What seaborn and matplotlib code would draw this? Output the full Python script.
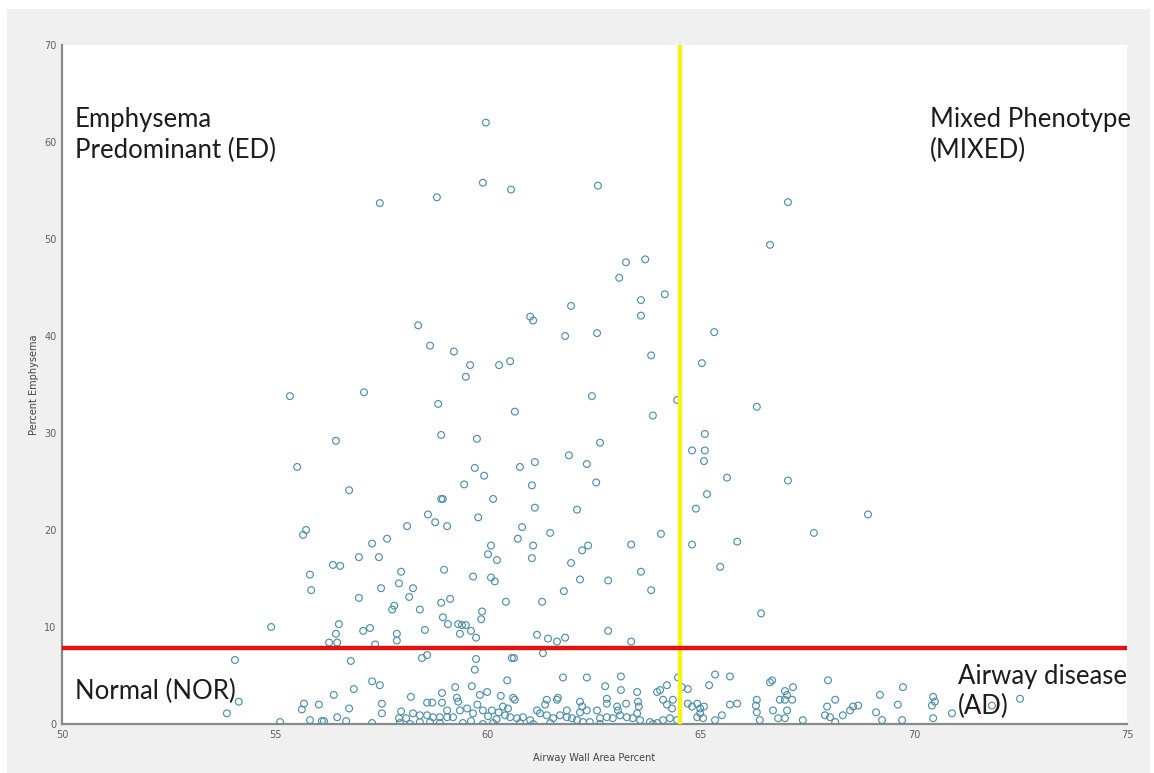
import matplotlib
matplotlib.use("Agg")
import matplotlib.pyplot as plt
import seaborn as sns
import pandas as pd
from matplotlib.patches import Rectangle

# ---- data ----
airway_wall = [
    59.95, 57.46, 58.80, 59.88, 60.54, 62.58,
    58.36, 58.64, 59.20, 59.58, 59.48, 60.26, 60.52, 60.99, 61.06, 61.95, 61.81, 62.56, 55.35, 57.09, 62.44,
    67.04, 66.62, 63.24, 63.69, 63.08, 64.15, 63.59, 63.59, 65.31, 63.83, 65.02, 64.44,
    58.83, 60.63, 63.87, 56.43, 58.90, 59.74, 55.52, 59.69, 59.91, 60.75, 61.10, 61.90, 62.32, 62.63, 62.54,
    61.03, 59.44, 56.74, 58.90, 58.94, 60.12, 61.10, 62.09, 58.59, 58.76, 59.04, 58.10, 59.77, 60.80, 61.46,
    60.70, 61.06, 60.07, 60.00, 60.21, 61.03, 61.95, 62.21, 62.35, 63.36, 64.06, 55.73, 55.66, 57.28, 57.63,
    56.97, 57.44, 56.36, 56.53, 55.82, 55.85, 57.96, 57.91, 57.49, 58.24, 58.15, 56.97, 58.97, 59.65, 60.07,
    60.16, 62.16, 62.82, 63.59, 61.78, 63.83, 60.42, 61.27, 58.90, 59.11, 58.40, 57.75, 57.80, 59.86, 59.84,
    58.94, 59.06, 59.30, 59.39, 59.48, 59.60, 59.72, 59.34, 58.52, 57.86, 57.86, 57.07, 57.23, 56.50, 56.43,
    56.27, 56.46, 57.35, 54.91, 61.15, 61.41, 61.62, 61.81, 62.82, 63.36, 64.79, 64.88, 64.79,
    66.31, 65.09, 65.09, 65.07, 65.61, 67.04, 65.14, 68.92, 65.85, 67.65, 65.45, 66.41,
    54.06, 54.15, 53.87, 55.12, 56.78, 57.28, 57.46, 56.85, 56.38, 55.68, 55.63, 56.03, 56.74, 57.51, 57.51,
    56.46, 55.82, 56.10, 56.15, 56.67, 57.28, 58.19, 57.96, 57.91, 58.08, 58.24, 58.40, 58.57, 58.57, 58.69,
    58.92, 58.92, 59.23, 59.27, 59.30, 59.62, 59.81, 59.98, 59.69, 59.72, 58.45, 58.57, 58.71, 58.87, 59.04,
    59.18, 59.04, 59.34, 59.51, 59.65, 59.88, 60.09, 57.93, 58.17, 58.40, 58.64, 58.87, 59.41, 59.88, 60.12,
    61.29, 60.56, 60.61, 60.45, 61.76, 62.32, 63.12, 62.75, 63.12, 63.50, 63.97, 64.04, 64.20, 64.46, 64.55,
    64.69, 65.19, 65.33, 65.68, 60.59, 60.63, 61.64, 61.62, 62.16, 62.21, 62.16, 62.79, 62.79, 63.03, 63.05,
    63.24, 63.52, 63.54, 63.50, 64.11, 64.20, 64.34, 64.32, 64.69, 64.79, 64.91, 64.98, 65.07, 64.98, 64.91,
    65.05, 65.68, 65.85, 65.49, 65.33, 66.31, 66.29, 66.31, 66.38, 66.62, 66.67, 66.69, 66.81, 66.97, 67.02,
    66.85, 66.97, 67.14, 67.16, 67.02, 66.97,
    60.35, 60.47, 60.40, 60.52, 60.68, 60.82, 60.99, 61.15, 61.22, 61.38, 61.53, 61.69, 61.85, 61.97, 62.09,
    62.23, 62.39, 62.63, 62.79, 62.93, 63.10, 63.26, 63.40, 63.57, 63.80, 63.97, 64.11, 64.27, 64.44, 61.46,
    61.06, 60.75, 62.63, 63.87, 61.38, 61.34, 61.85, 62.32, 62.56,
    67.98, 68.15, 67.96, 67.91, 68.03, 68.15, 68.33, 68.50, 68.57, 68.69, 69.20, 69.74, 69.11, 69.25, 69.62,
    69.72, 70.45, 70.49, 70.42, 70.45, 70.89, 71.83, 72.49, 67.39,
    60.20, 60.30, 59.60, 60.00, 60.25, 59.75,
]
pct_emphysema = [
    62.0, 53.7, 54.3, 55.8, 55.1, 55.5,
    41.1, 39.0, 38.4, 37.0, 35.8, 37.0, 37.4, 42.0, 41.6, 43.1, 40.0, 40.3, 33.8, 34.2, 33.8,
    53.8, 49.4, 47.6, 47.9, 46.0, 44.3, 43.7, 42.1, 40.4, 38.0, 37.2, 33.4,
    33.0, 32.2, 31.8, 29.2, 29.8, 29.4, 26.5, 26.4, 25.6, 26.5, 27.0, 27.7, 26.8, 29.0, 24.9,
    24.6, 24.7, 24.1, 23.2, 23.2, 23.2, 22.3, 22.1, 21.6, 20.8, 20.4, 20.4, 21.3, 20.3, 19.7,
    19.1, 18.4, 18.4, 17.5, 16.9, 17.1, 16.6, 17.9, 18.4, 18.5, 19.6, 20.0, 19.5, 18.6, 19.1,
    17.2, 17.2, 16.4, 16.3, 15.4, 13.8, 15.7, 14.5, 14.0, 14.0, 13.1, 13.0, 15.9, 15.2, 15.1,
    14.7, 14.9, 14.8, 15.7, 13.7, 13.8, 12.6, 12.6, 12.5, 12.9, 11.8, 11.8, 12.2, 11.6, 10.8,
    11.0, 10.3, 10.3, 10.2, 10.2, 9.6, 8.9, 9.3, 9.7, 9.3, 8.6, 9.6, 9.9, 10.3, 9.3,
    8.4, 8.4, 8.2, 10.0, 9.2, 8.8, 8.5, 8.9, 9.6, 8.5, 28.2, 22.2, 18.5,
    32.7, 29.9, 28.2, 27.1, 25.4, 25.1, 23.7, 21.6, 18.8, 19.7, 16.2, 11.4,
    6.6, 2.3, 1.1, 0.2, 6.5, 4.4, 4.0, 3.6, 3.0, 2.1, 1.5, 2.0, 1.6, 2.1, 1.1,
    0.7, 0.4, 0.3, 0.3, 0.3, 0.1, 2.8, 1.3, 0.6, 0.6, 1.1, 0.9, 0.9, 2.2, 2.2,
    2.2, 3.2, 3.8, 2.7, 2.3, 3.9, 3.0, 3.3, 5.6, 6.7, 6.8, 7.1, 0.7, 0.7, 0.7,
    0.7, 1.4, 1.4, 1.6, 1.1, 1.4, 1.4, 0.1, 0.0, 0.2, 0.2, 0.1, 0.1, 0.0, 0.1,
    7.3, 6.8, 6.8, 4.5, 4.8, 4.8, 4.9, 3.9, 3.5, 3.3, 3.3, 3.5, 4.0, 4.8, 3.8,
    3.6, 4.0, 5.1, 4.9, 2.7, 2.5, 2.7, 2.5, 2.3, 1.8, 1.2, 2.6, 2.1, 1.8, 1.4,
    2.1, 2.3, 1.8, 1.1, 2.5, 2.0, 2.5, 1.6, 2.1, 1.8, 2.1, 1.6, 1.8, 1.1, 0.7,
    0.6, 2.0, 2.1, 0.9, 0.4, 2.5, 1.9, 1.2, 0.4, 4.3, 4.5, 1.4, 0.6, 3.4, 3.0,
    2.5, 2.5, 2.5, 3.8, 1.4, 0.6,
    1.8, 1.6, 0.9, 0.7, 0.6, 0.7, 0.4, 1.4, 1.1, 0.9, 0.6, 0.9, 0.7, 0.6, 0.4,
    0.2, 0.2, 0.6, 0.7, 0.6, 0.9, 0.7, 0.6, 0.4, 0.2, 0.1, 0.4, 0.6, 0.4, 0.1,
    0.0, 0.1, 0.0, 0.0, 2.5, 2.0, 1.4, 1.4, 1.4,
    4.5, 2.5, 1.8, 0.9, 0.7, 0.2, 0.9, 1.4, 1.8, 1.9, 3.0, 3.8, 1.2, 0.4, 2.0,
    0.4, 2.8, 2.3, 1.9, 0.6, 1.1, 1.9, 2.6, 0.4,
    0.5, 2.9, 0.3, 0.8, 1.2, 2.0,
]
awa_threshold = 64.5
emph_threshold = 7.8
x_ticks = [50, 55, 60, 65, 70, 75]
y_ticks = [0, 10, 20, 30, 40, 50, 60, 70]
x_label = "Airway Wall Area Percent"
y_label = "Percent Emphysema"
quadrant_labels = ["Emphysema\nPredominant (ED)", "Mixed Phenotype\n(MIXED)",
                   "Normal (NOR)", "Airway disease\n(AD)"]

df = pd.DataFrame({"awa": airway_wall, "emph": pct_emphysema})

sns.set_theme(style="white")
plt.rcParams["font.family"] = ["DejaVu Sans"]

W, H = 1154, 773
fig = plt.figure(figsize=(W / 100, H / 100), dpi=100, facecolor="white")
fig.patches.append(Rectangle((7 / W, 0), (1150 - 7) / W, 1 - 9 / H,
                             transform=fig.transFigure, facecolor="#f0f0f0",
                             edgecolor="none", zorder=-10))
ax = fig.add_axes([62 / W, 1 - 724 / H, (1127 - 62) / W, (724 - 45) / H])
ax.set_facecolor("white")

sns.scatterplot(data=df, x="awa", y="emph", ax=ax, marker="o", s=24,
                linewidth=0.85, legend=False, zorder=3)
coll = ax.collections[0]
coll.set_facecolor("none")
coll.set_edgecolor("#4f8fab")

ax.axvline(awa_threshold, color="#f4f41a", lw=3.2, zorder=4)
ax.axhline(emph_threshold, color="#dc1414", lw=3.2, zorder=5)

ax.set_xlim(50, 75)
ax.set_ylim(0, 70)
ax.set_xticks(x_ticks)
ax.set_yticks(y_ticks)
for s in ["top", "right"]:
    ax.spines[s].set_visible(False)
for s in ["left", "bottom"]:
    ax.spines[s].set_color("#8a8a8a")
    ax.spines[s].set_linewidth(1.6)
ax.tick_params(direction="in", length=5, width=1.0, colors="#8a8a8a",
               labelsize=7, labelcolor="#606060", pad=4)
ax.set_xlabel(x_label, fontsize=7, color="#444444", labelpad=10)
ax.set_ylabel(y_label, fontsize=7, color="#444444", labelpad=4)

tkw = dict(fontsize=18.5, color="#1c1c1c", family="Lato", linespacing=1.27, zorder=6)
ax.text(50.3, 63.6, quadrant_labels[0], ha="left", va="top", **tkw)
ax.text(70.37, 63.6, quadrant_labels[1], ha="left", va="top", **tkw)
ax.text(50.3, 3.4, quadrant_labels[2], ha="left", va="center", **tkw)
ax.text(71.03, 6.2, quadrant_labels[3], ha="left", va="top", **tkw)

fig.savefig("out.png", dpi=100, facecolor="white")
